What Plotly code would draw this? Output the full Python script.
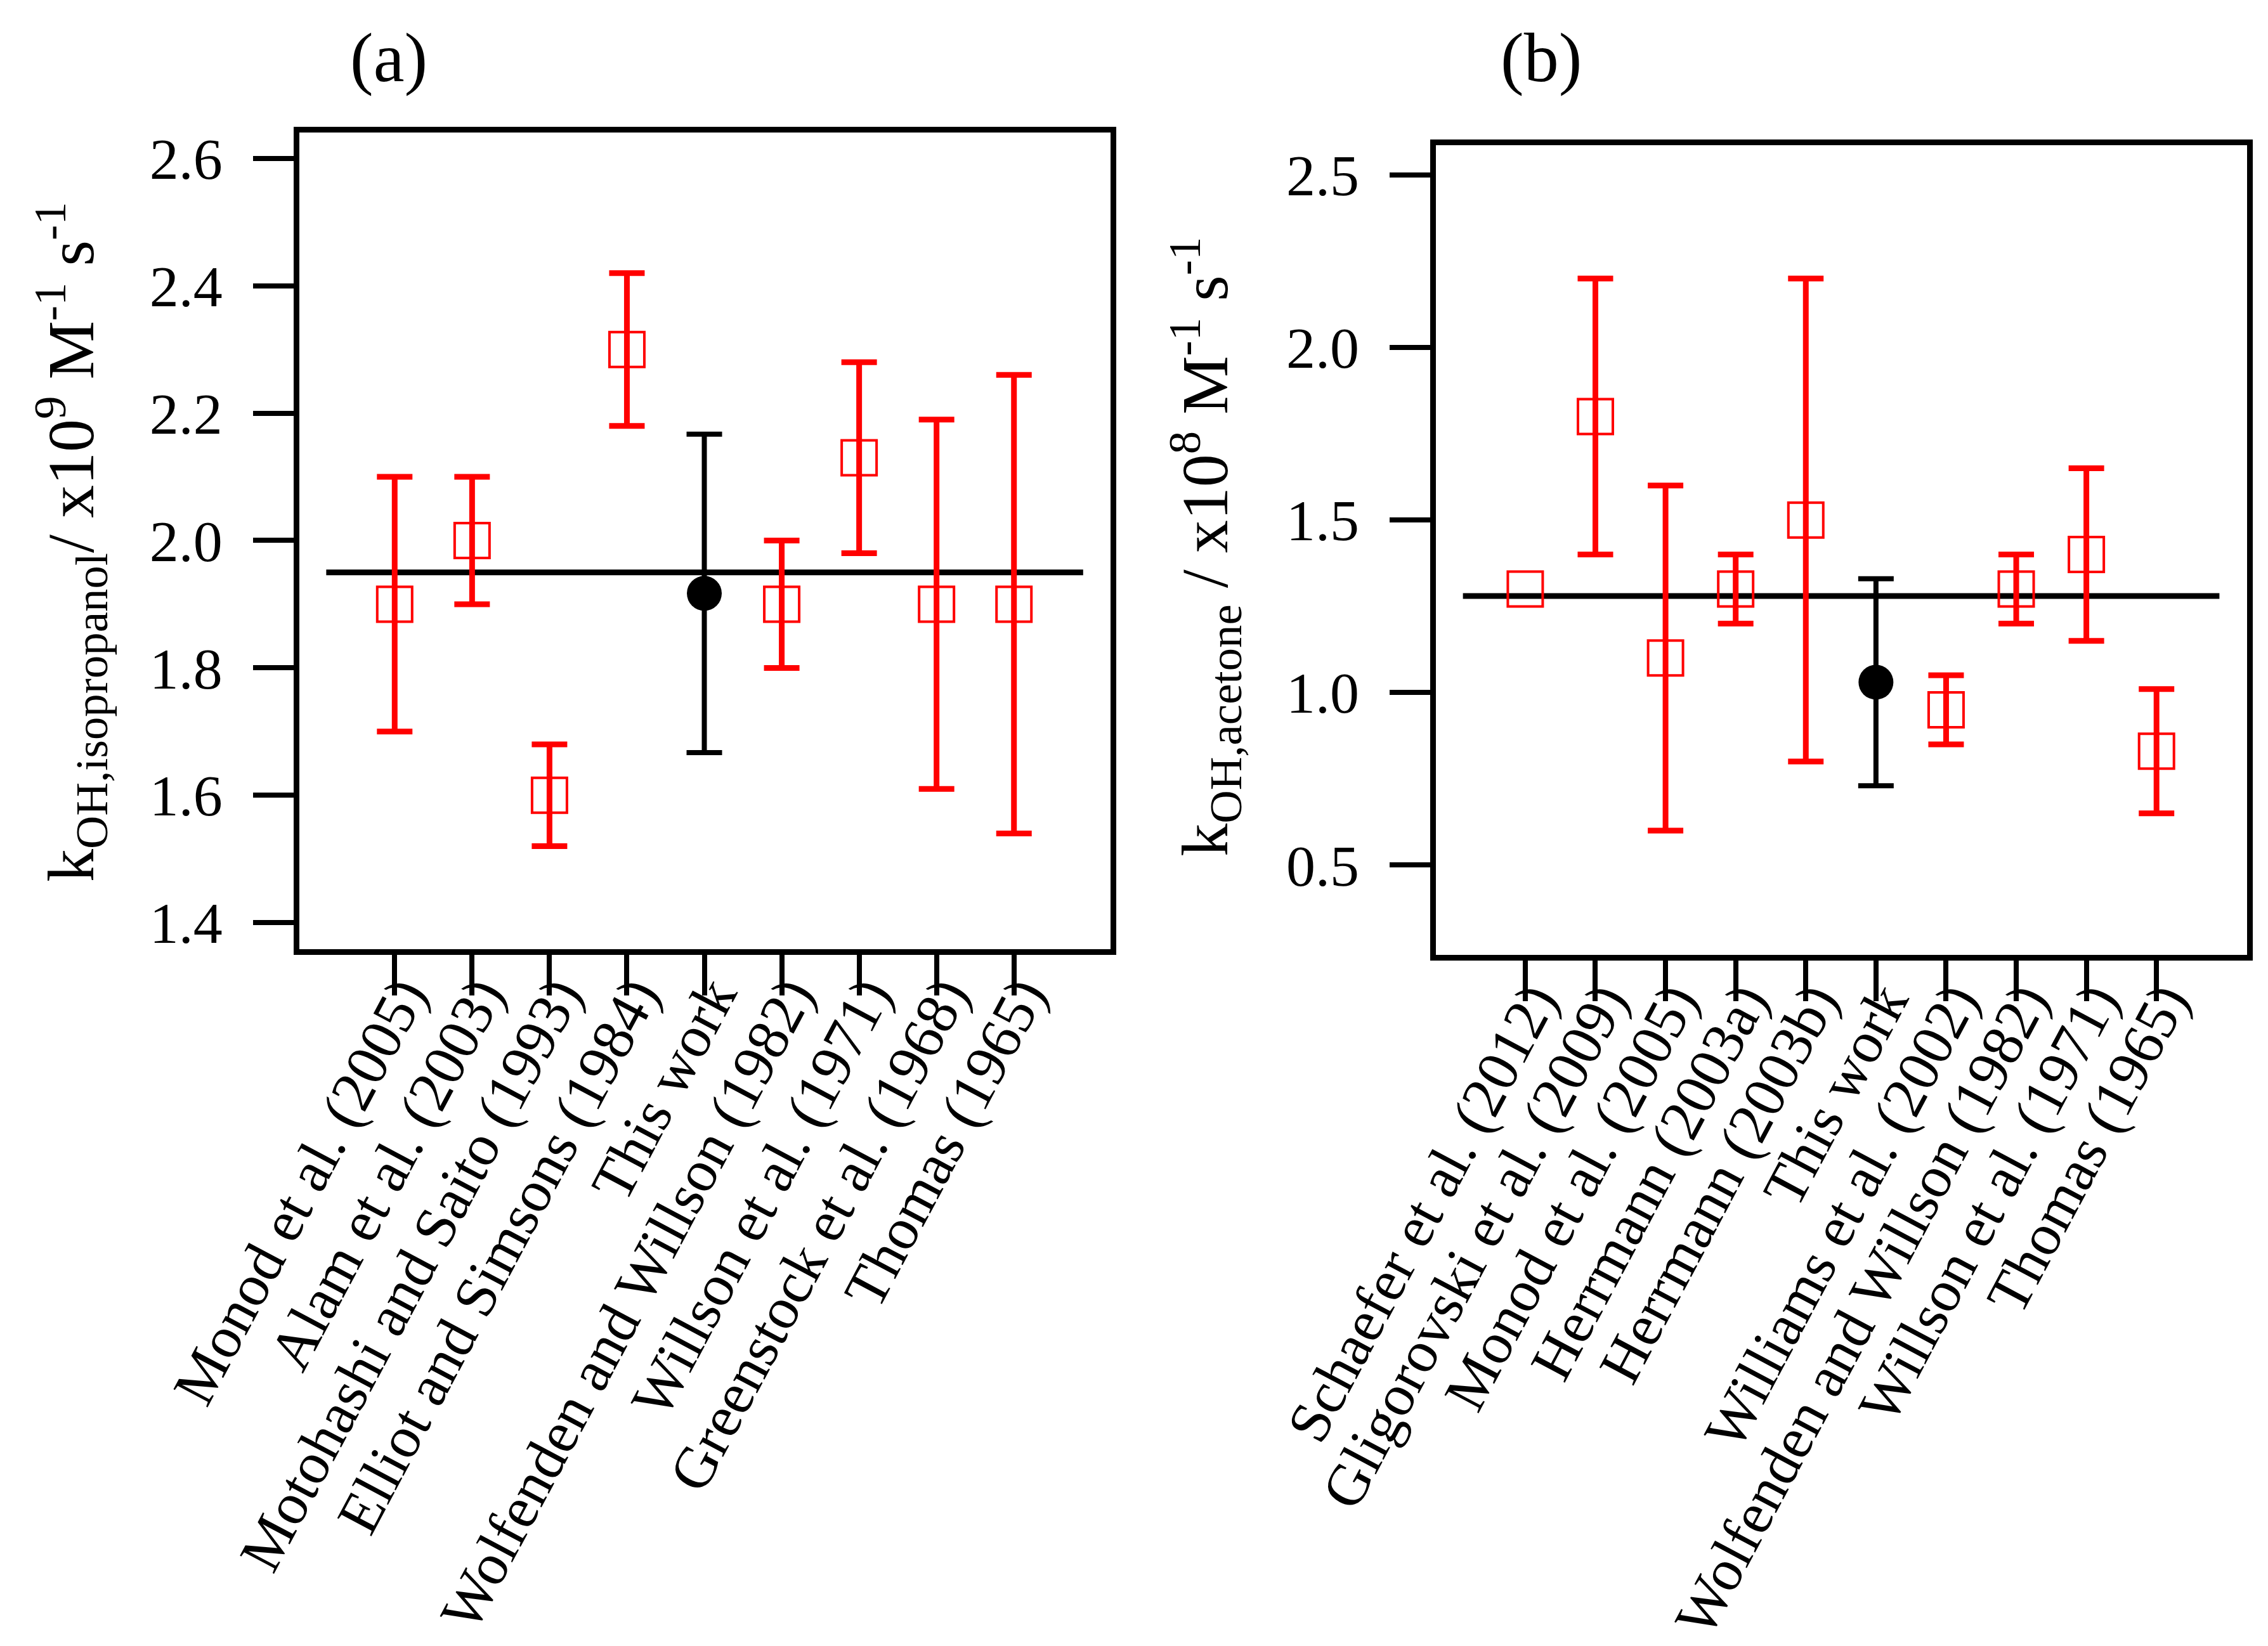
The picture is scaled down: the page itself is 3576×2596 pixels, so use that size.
import plotly.graph_objects as go

# Panel (a): isopropanol, x10^9 M^-1 s^-1
labels_a = ["Monod et al. (2005)", "Alam et al. (2003)", "Motohashi and Saito (1993)",
            "Elliot and Simsons (1984)", "This work", "Wolfenden and Willson (1982)",
            "Willson et al. (1971)", "Greenstock et al. (1968)", "Thomas (1965)"]
k_a = [1.90, 2.00, 1.60, 2.30, 1.917, 1.90, 2.13, 1.90, 1.90]
hi_a = [2.10, 2.10, 1.68, 2.42, 2.167, 2.00, 2.28, 2.19, 2.26]
lo_a = [1.70, 1.90, 1.52, 2.18, 1.667, 1.80, 1.98, 1.61, 1.54]
mean_a = 1.95

# Panel (b): acetone, x10^8 M^-1 s^-1
labels_b = ["Schaefer et al. (2012)", "Gligorovski et al. (2009)", "Monod et al. (2005)",
            "Herrmann (2003a)", "Herrmann (2003b)", "This work", "Williams et al. (2002)",
            "Wolfenden and Willson (1982)", "Willson et al. (1971)", "Thomas (1965)"]
k_b = [1.30, 1.80, 1.10, 1.30, 1.50, 1.03, 0.95, 1.30, 1.40, 0.83]
hi_b = [None, 2.20, 1.60, 1.40, 2.20, 1.33, 1.05, 1.40, 1.65, 1.01]
lo_b = [None, 1.40, 0.60, 1.20, 0.80, 0.73, 0.85, 1.20, 1.15, 0.65]
mean_b = 1.28

FONT = "Liberation Serif"
RED = "#ff0000"

fig = go.Figure()


def add_panel(labels, k, hi, lo, mean, xax, yax):
    idx = list(range(len(labels)))
    ours = [i for i in idx if labels[i] == "This work"]
    lit = [i for i in idx if labels[i] != "This work"]
    lit_err = [i for i in lit if hi[i] is not None]
    lit_noerr = [i for i in lit if hi[i] is None]

    # average line
    fig.add_shape(type="line", xref=xax + " domain", yref=yax,
                  x0=0.033, x1=0.966, y0=mean, y1=mean,
                  line=dict(color="black", width=9), layer="below")

    square = dict(symbol="square-open", size=55, color=RED, line=dict(width=4, color=RED))
    # literature values with error bars
    fig.add_trace(go.Scatter(
        x=lit_err, y=[k[i] for i in lit_err], xaxis=xax, yaxis=yax,
        mode="markers", showlegend=False, marker=square,
        error_y=dict(type="data", symmetric=False,
                     array=[hi[i] - k[i] for i in lit_err],
                     arrayminus=[k[i] - lo[i] for i in lit_err],
                     color=RED, thickness=9, width=28),
    ))
    if lit_noerr:
        fig.add_trace(go.Scatter(
            x=lit_noerr, y=[k[i] for i in lit_noerr], xaxis=xax, yaxis=yax,
            mode="markers", showlegend=False, marker=square,
        ))
    # this work
    fig.add_trace(go.Scatter(
        x=ours, y=[k[i] for i in ours], xaxis=xax, yaxis=yax,
        mode="markers", showlegend=False,
        marker=dict(symbol="circle", size=55, color="black"),
        error_y=dict(type="data", symmetric=False,
                     array=[hi[i] - k[i] for i in ours],
                     arrayminus=[k[i] - lo[i] for i in ours],
                     color="black", thickness=8, width=28),
    ))


add_panel(labels_a, k_a, hi_a, lo_a, mean_a, "x", "y")
add_panel(labels_b, k_b, hi_b, lo_b, mean_b, "x2", "y2")

axis_style = dict(showline=True, mirror=True, linecolor="black", linewidth=9,
                  ticks="outside", ticklen=64, tickwidth=8, tickcolor="black",
                  showgrid=False, zeroline=False, automargin=False)
y_font = dict(family=FONT, size=92, color="black")
x_font = dict(family=FONT, size=93, color="black")
title_font = dict(family=FONT, size=104, color="black")

fig.update_layout(
    width=3576, height=2596,
    margin=dict(l=0, r=0, t=0, b=0, autoexpand=False),
    paper_bgcolor="white", plot_bgcolor="white",
    xaxis=dict(domain=[0.1298, 0.4875], anchor="y", range=[-1.23, 9.25],
               tickvals=list(range(len(labels_a))), ticktext=labels_a, tickangle=-62,
               ticklabelstandoff=-92, ticklabelshift=12, tickfont=x_font, **axis_style),
    yaxis=dict(domain=[0.4263, 0.9227], anchor="x", range=[1.358, 2.641],
               dtick=0.2, tickformat=".1f", ticklabelstandoff=30, tickfont=y_font,
               **axis_style),
    xaxis2=dict(domain=[0.6310, 0.9885], anchor="y2", range=[-1.27, 10.29],
                tickvals=list(range(len(labels_b))), ticktext=labels_b, tickangle=-62,
                ticklabelstandoff=-92, ticklabelshift=12, tickfont=x_font, **axis_style),
    yaxis2=dict(domain=[0.4228, 0.9148], anchor="x2", range=[0.239, 2.586],
                dtick=0.5, tickformat=".1f", ticklabelstandoff=30, tickfont=y_font,
                **axis_style),
    annotations=[
        dict(text="(a)", x=0.1692, y=0.968, xref="paper", yref="paper", showarrow=False,
             xanchor="center", yanchor="middle",
             font=dict(family=FONT, size=110, color="black")),
        dict(text="(b)", x=0.6773, y=0.968, xref="paper", yref="paper", showarrow=False,
             xanchor="center", yanchor="middle",
             font=dict(family=FONT, size=110, color="black")),
        dict(text="k<sub>OH,isopropanol</sub>/ x10<sup>9</sup> M<sup>-1</sup> s<sup>-1</sup>",
             x=0.029, y=0.674, xref="paper", yref="paper", showarrow=False, textangle=-90,
             xanchor="center", yanchor="middle", font=title_font),
        dict(text="k<sub>OH,acetone</sub> / x10<sup>8</sup> M<sup>-1</sup> s<sup>-1</sup>",
             x=0.529, y=0.671, xref="paper", yref="paper", showarrow=False, textangle=-90,
             xanchor="center", yanchor="middle", font=title_font),
    ],
)

fig.write_html("out.html")
